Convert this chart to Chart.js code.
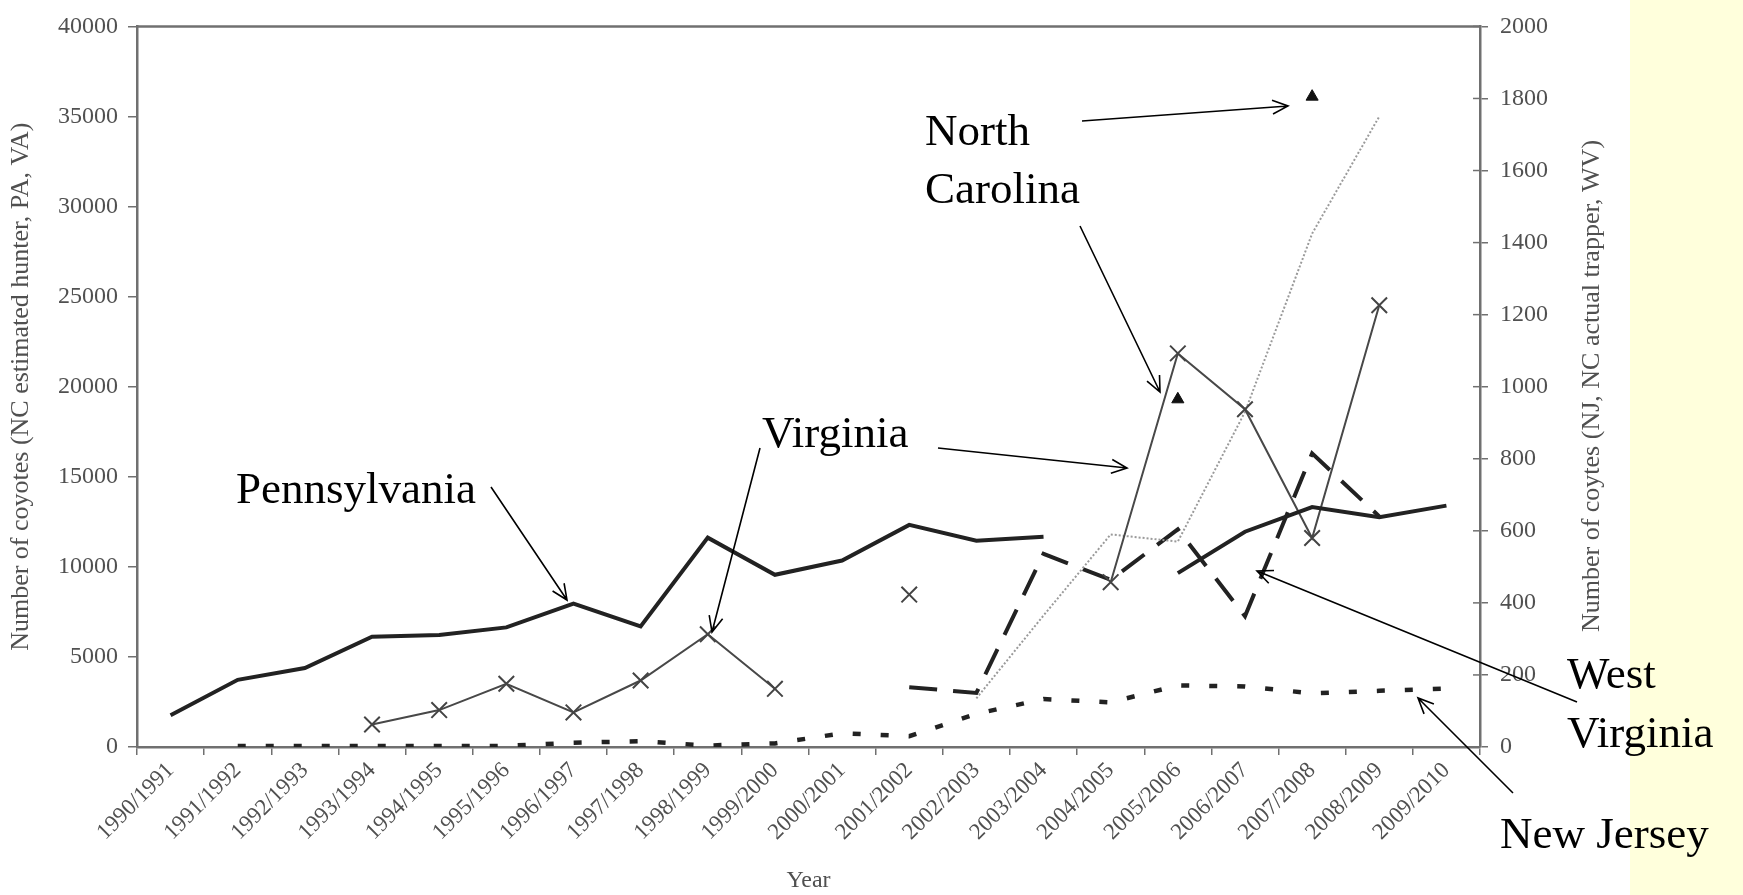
<!DOCTYPE html>
<html>
<head>
<meta charset="utf-8">
<script src="https://cdn.jsdelivr.net/npm/chart.js@4.4.0/dist/chart.umd.min.js"></script>
<style>
html, body { margin: 0; padding: 0; background: #fff; }
#wrap { width: 1743px; height: 895px; position: relative; }
</style>
</head>
<body>
<div id="wrap"><canvas id="coyoteChart"></canvas></div>
<script>
const seasons = ["1990/1991","1991/1992","1992/1993","1993/1994","1994/1995","1995/1996","1996/1997",
  "1997/1998","1998/1999","1999/2000","2000/2001","2001/2002","2002/2003","2003/2004","2004/2005",
  "2005/2006","2006/2007","2007/2008","2008/2009","2009/2010"];

// left axis (NC estimated hunter, PA, VA)
const pennsylvania = [1760, 3730, 4380, 6120, 6220, 6640, 7960, 6690, 11620, 9560, 10350, 12330, 11450, 11670, null, 9650, 11950, 13320, 12750, 13400];
const virginia = [null, null, null, 1250, 2050, 3510, 1920, 3690, 6260, 3230, null, 8460, null, null, 9150, 21850, 18750, 11600, 24520, null];
const ncHunter = [null, null, null, null, null, null, null, null, null, null, null, null, 2700, 7300, 11800, 11400, 18600, 28500, 35000, null];

// right axis (NJ, NC actual trapper, WV)
const ncTrapper = [null, null, null, null, null, null, null, null, null, null, null, null, null, null, null, 965, null, 1805, null, null];
const westVirginia = [null, null, null, null, null, null, null, null, null, null, null, 166, 150, 536, 464, 604, 363, 815, 640, null];
const newJersey = [null, 3, 3, 3, 3, 3, 12, 16, 4, 10, 38, 30, 92, 133, 124, 171, 168, 149, 156, 162];

const serif = "'Liberation Serif', 'Times New Roman', serif";
const axisGrey = "#707070";
const labelGrey = "#505050";

const backdrop = {
  id: "backdrop",
  beforeDraw(chart) {
    const ctx = chart.ctx;
    ctx.save();
    ctx.fillStyle = "#fff";
    ctx.fillRect(0, 0, chart.width, chart.height);
    ctx.fillStyle = "#ffffdc";
    ctx.fillRect(1630, 0, chart.width - 1630, chart.height);
    ctx.restore();
  }
};

function arrow(ctx, x1, y1, x2, y2) {
  const a = Math.atan2(y2 - y1, x2 - x1);
  const h = 17, s = 0.42;
  ctx.beginPath();
  ctx.moveTo(x1, y1);
  ctx.lineTo(x2, y2);
  ctx.moveTo(x2 - h * Math.cos(a - s), y2 - h * Math.sin(a - s));
  ctx.lineTo(x2, y2);
  ctx.lineTo(x2 - h * Math.cos(a + s), y2 - h * Math.sin(a + s));
  ctx.stroke();
}

const notes = {
  id: "notes",
  afterDraw(chart) {
    const ctx = chart.ctx;
    const area = chart.chartArea;
    const y1 = chart.scales.y1;
    ctx.save();
    // top frame line
    ctx.strokeStyle = axisGrey;
    ctx.lineWidth = 2.5;
    ctx.beginPath();
    ctx.moveTo(area.left - 1, area.top);
    ctx.lineTo(area.right + 1, area.top);
    ctx.stroke();
    // inner half of right-axis ticks
    ctx.lineWidth = 1.5;
    y1.ticks.forEach((t, i) => {
      const py = y1.getPixelForTick(i);
      ctx.beginPath();
      ctx.moveTo(area.right - 7, py);
      ctx.lineTo(area.right, py);
      ctx.stroke();
    });
    // right axis title (reads bottom to top)
    ctx.fillStyle = labelGrey;
    ctx.font = "26px " + serif;
    ctx.textAlign = "center";
    ctx.textBaseline = "middle";
    ctx.translate(1592, 386);
    ctx.rotate(-Math.PI / 2);
    ctx.fillText("Number of coytes (NJ, NC actual trapper, WV)", 0, 0);
    ctx.restore();

    // state labels and arrows
    ctx.save();
    ctx.fillStyle = "#000";
    ctx.font = "45px " + serif;
    ctx.textAlign = "left";
    ctx.textBaseline = "alphabetic";
    ctx.fillText("Pennsylvania", 236, 503);
    ctx.fillText("Virginia", 762, 447);
    ctx.fillText("North", 925, 145);
    ctx.fillText("Carolina", 925, 203);
    ctx.fillText("West", 1567, 688);
    ctx.fillText("Virginia", 1567, 747);
    ctx.fillText("New Jersey", 1500, 848);
    ctx.strokeStyle = "#000";
    ctx.lineWidth = 1.6;
    arrow(ctx, 491, 487, 567, 600);
    arrow(ctx, 760, 448, 712, 632);
    arrow(ctx, 938, 448, 1127, 468);
    arrow(ctx, 1082, 121, 1288, 106);
    arrow(ctx, 1080, 226, 1160, 392);
    arrow(ctx, 1577, 702, 1257, 571);
    arrow(ctx, 1513, 793, 1418, 698);
    ctx.restore();
  }
};

const plain = v => String(v);

new Chart("coyoteChart", {
  type: "line",
  data: {
    labels: seasons,
    datasets: [
      { label: "Pennsylvania", data: pennsylvania, yAxisID: "y",
        borderColor: "#222", borderWidth: 4, pointRadius: 0 },
      { label: "Virginia", data: virginia, yAxisID: "y",
        borderColor: "#484848", borderWidth: 2, pointStyle: "crossRot", pointRadius: 11,
        pointBorderWidth: 2, pointBorderColor: "#444" },
      { label: "North Carolina (hunter)", data: ncHunter, yAxisID: "y",
        borderColor: "#9a9a9a", borderWidth: 2, borderDash: [2, 2], pointRadius: 0 },
      { label: "North Carolina (trapper)", data: ncTrapper, yAxisID: "y1", showLine: false,
        pointStyle: "triangle", pointRadius: 7, backgroundColor: "#111", borderColor: "#111" },
      { label: "West Virginia", data: westVirginia, yAxisID: "y1",
        borderColor: "#222", borderWidth: 4, borderDash: [28, 16], pointRadius: 0 },
      { label: "New Jersey", data: newJersey, yAxisID: "y1",
        borderColor: "#222", borderWidth: 4.5, borderDash: [8, 20], pointRadius: 0 }
    ]
  },
  options: {
    responsive: true,
    maintainAspectRatio: false,
    animation: false,
    spanGaps: false,
    layout: { padding: { top: 20, left: 0, right: 0, bottom: 0 } },
    plugins: { legend: { display: false }, tooltip: { enabled: false } },
    scales: {
      x: {
        offset: true,
        afterFit(s) { s.height = 148; },
        grid: { display: true, drawOnChartArea: false, drawTicks: true, tickLength: 8, offset: true,
          color: axisGrey, lineWidth: 1.5 },
        border: { display: true, color: axisGrey, width: 2.5 },
        ticks: { minRotation: 45, maxRotation: 45, color: labelGrey, font: { family: serif, size: 23 }, padding: 2 },
        title: { display: true, text: "Year", color: labelGrey, font: { family: serif, size: 24 }, padding: { top: 0, bottom: 0 } }
      },
      y: {
        position: "left",
        min: 0, max: 40000,
        afterFit(s) { s.width = 137; },
        grid: { drawOnChartArea: false, drawTicks: true, tickLength: 9, color: axisGrey, lineWidth: 1.5 },
        border: { display: true, color: axisGrey, width: 2.5 },
        ticks: { stepSize: 5000, callback: plain, color: labelGrey, font: { family: serif, size: 24 }, padding: 10 },
        title: { display: true, text: "Number of coyotes (NC estimated hunter, PA, VA)", color: labelGrey,
          font: { family: serif, size: 26 }, padding: { top: 6, bottom: 0 } }
      },
      y1: {
        position: "right",
        min: 0, max: 2000,
        afterFit(s) { s.width = 263; },
        grid: { drawOnChartArea: false, drawTicks: true, tickLength: 8, color: axisGrey, lineWidth: 1.5 },
        border: { display: true, color: axisGrey, width: 2.5 },
        ticks: { stepSize: 200, callback: plain, color: labelGrey, font: { family: serif, size: 24 }, padding: 12 }
      }
    }
  },
  plugins: [backdrop, notes]
});
</script>
</body>
</html>
